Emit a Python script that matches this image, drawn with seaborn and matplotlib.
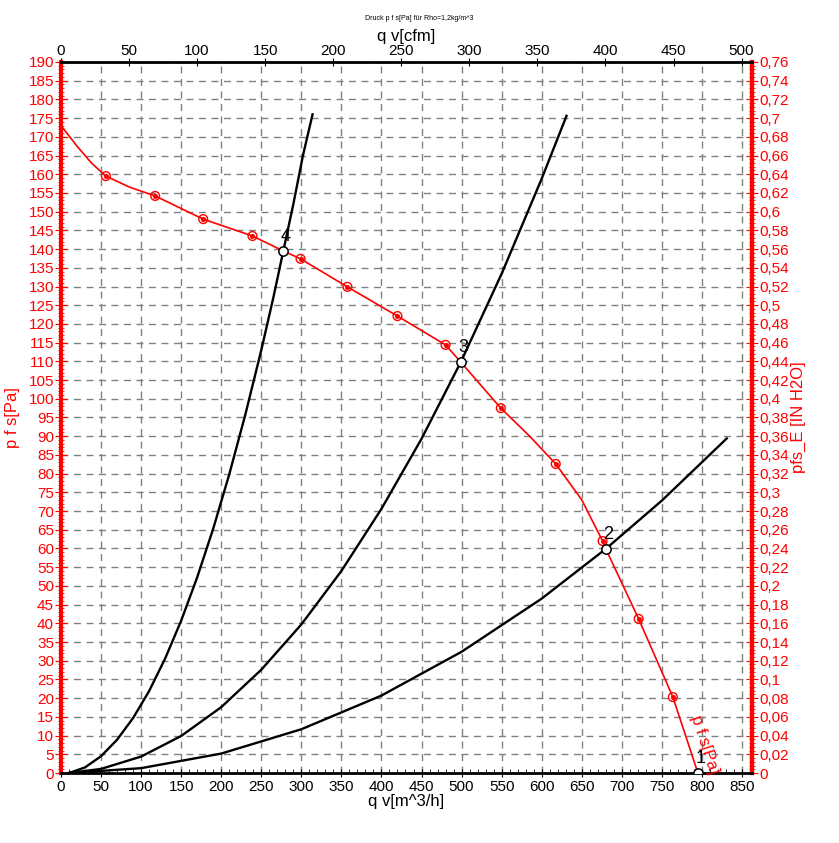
import numpy as np
import pandas as pd
import seaborn as sns
import matplotlib.pyplot as plt
from matplotlib.ticker import MultipleLocator, FuncFormatter

# ========== data ==========
# fan curve p_fs over q_v (m^3/h)
fan_q = [0, 20, 38, 56, 85, 117.5, 177.5, 239, 277.5, 299, 357.5, 420, 480, 499, 549, 585, 617.5, 650, 676, 680, 721, 763.75, 795]
fan_p = [173, 167.5, 163, 159.5, 156.6, 154.2, 148, 143.5, 139.5, 137.4, 129.9, 122.1, 114.4, 109.8, 97.5, 90.0, 82.6, 73.0, 62, 59.9, 41.2, 20.3, 0]
# measured points (circled dots) on the fan curve
meas_q = [56, 117.5, 177.5, 239, 299, 357.5, 420, 480, 549, 617.5, 676, 721, 763.75]
meas_p = [159.5, 154.2, 148, 143.5, 137.4, 129.9, 122.1, 114.4, 97.5, 82.6, 62, 41.2, 20.3]

# system curves
sys4_q = [10, 30, 50, 70, 90, 110, 130, 150, 170, 190, 210, 230, 250, 265, 277.5, 290, 302, 314]
sys4_p = [0, 1.5, 4.5, 8.9, 14.7, 21.9, 30.6, 40.7, 52.3, 65.3, 79.8, 95.7, 113, 127, 139.5, 152, 165, 176]
sys3_q = [10, 50, 100, 150, 200, 250, 300, 350, 400, 450, 499, 550, 600, 631]
sys3_p = [0, 1.1, 4.4, 9.9, 17.6, 27.6, 39.7, 54, 70.6, 89.3, 109.8, 133.4, 158.8, 175.6]
sys2_q = [10, 100, 200, 300, 400, 500, 600, 680, 750, 831]
sys2_p = [0, 1.3, 5.2, 11.7, 20.7, 32.4, 46.6, 59.9, 72.8, 89.4]

# operating points
op_labels = ['1', '2', '3', '4']
op_q = [795, 680, 499, 277.5]
op_p = [0, 59.9, 109.8, 139.5]

plt.rcParams['font.family'] = ['Liberation Sans', 'DejaVu Sans']

fig = plt.figure(figsize=(8.39, 8.43), dpi=100)
ax = fig.add_axes([0.0727, 0.083, 0.8236, 0.8435])

red = '#ff0000'

for q, p in [(sys4_q, sys4_p), (sys3_q, sys3_p), (sys2_q, sys2_p)]:
    sns.lineplot(x=q, y=p, ax=ax, color='black', linewidth=1.7, sort=False)

sns.lineplot(x=fan_q, y=fan_p, ax=ax, color=red, linewidth=1.2, sort=False)
sns.scatterplot(x=meas_q, y=meas_p, ax=ax, s=40, facecolor='none', edgecolor=red, linewidth=1.0, zorder=5)
sns.scatterplot(x=meas_q, y=meas_p, ax=ax, s=12, color=red, edgecolor=red, zorder=6)

sns.scatterplot(x=op_q, y=op_p, ax=ax, s=45, facecolor='white', edgecolor='black', linewidth=1.1, zorder=7)
for lab, q, p in zip(op_labels, op_q, op_p):
    ax.text(q - 3, p + 1.5, lab, fontsize=13, color='black', ha='left', va='bottom', zorder=8)

ax.text(803, 7.5, 'p f s[Pa]', color=red, fontsize=12, rotation=-72,
        ha='center', va='center', rotation_mode='anchor')

ax.set_xlim(0, 862.5)
ax.set_ylim(0, 190)

ax.xaxis.set_major_locator(MultipleLocator(50))
ax.xaxis.set_minor_locator(MultipleLocator(10))
ax.yaxis.set_major_locator(MultipleLocator(5))
ax.yaxis.set_minor_locator(MultipleLocator(1))

ax.grid(True, which='major', color='#808080', linestyle=(0, (5, 4)), linewidth=1)

ax.tick_params(axis='x', which='major', direction='inout', length=6, labelsize=11, pad=2)
ax.tick_params(axis='x', which='minor', direction='in', length=3)
ax.tick_params(axis='y', which='major', direction='inout', length=8, colors=red, labelsize=11, pad=1)
ax.tick_params(axis='y', which='minor', direction='inout', length=5, colors=red)

ax.spines['left'].set_color(red)
ax.spines['left'].set_linewidth(3)
ax.spines['right'].set_color(red)
ax.spines['right'].set_linewidth(3)
ax.spines['bottom'].set_linewidth(2)
ax.spines['top'].set_linewidth(2)

ax.set_xlabel('q v[m^3/h]', fontsize=12, labelpad=0)
ax.set_ylabel('p f s[Pa]', fontsize=12, color=red, labelpad=6)

# top axis in cfm
top = ax.secondary_xaxis('top', functions=(lambda q: q / 1.699, lambda c: c * 1.699))
top.xaxis.set_major_locator(MultipleLocator(50))
top.tick_params(direction='inout', length=6, labelsize=11, pad=0)
top.set_xlabel('q v[cfm]', fontsize=12, labelpad=2)

# right axis in H2O
right = ax.secondary_yaxis('right', functions=(lambda p: p / 250.0, lambda h: h * 250.0))
right.yaxis.set_major_locator(MultipleLocator(0.02))
right.yaxis.set_minor_locator(MultipleLocator(0.004))
right.yaxis.set_major_formatter(FuncFormatter(lambda v, pos: ('%.2f' % v).rstrip('0').rstrip('.').replace('.', ',')))
right.tick_params(axis='y', which='major', direction='inout', length=8, colors=red, labelsize=11, pad=1)
right.tick_params(axis='y', which='minor', direction='inout', length=5, colors=red)
right.spines['right'].set_color(red)
right.spines['right'].set_linewidth(3)
right.set_ylabel('pfs_E [IN H2O]', fontsize=12, color=red, labelpad=2)

fig.text(0.5, 0.978, 'Druck p f s[Pa] für Rho=1,2kg/m^3', fontsize=5, ha='center', va='center')

fig.savefig('out.png', dpi=100)
